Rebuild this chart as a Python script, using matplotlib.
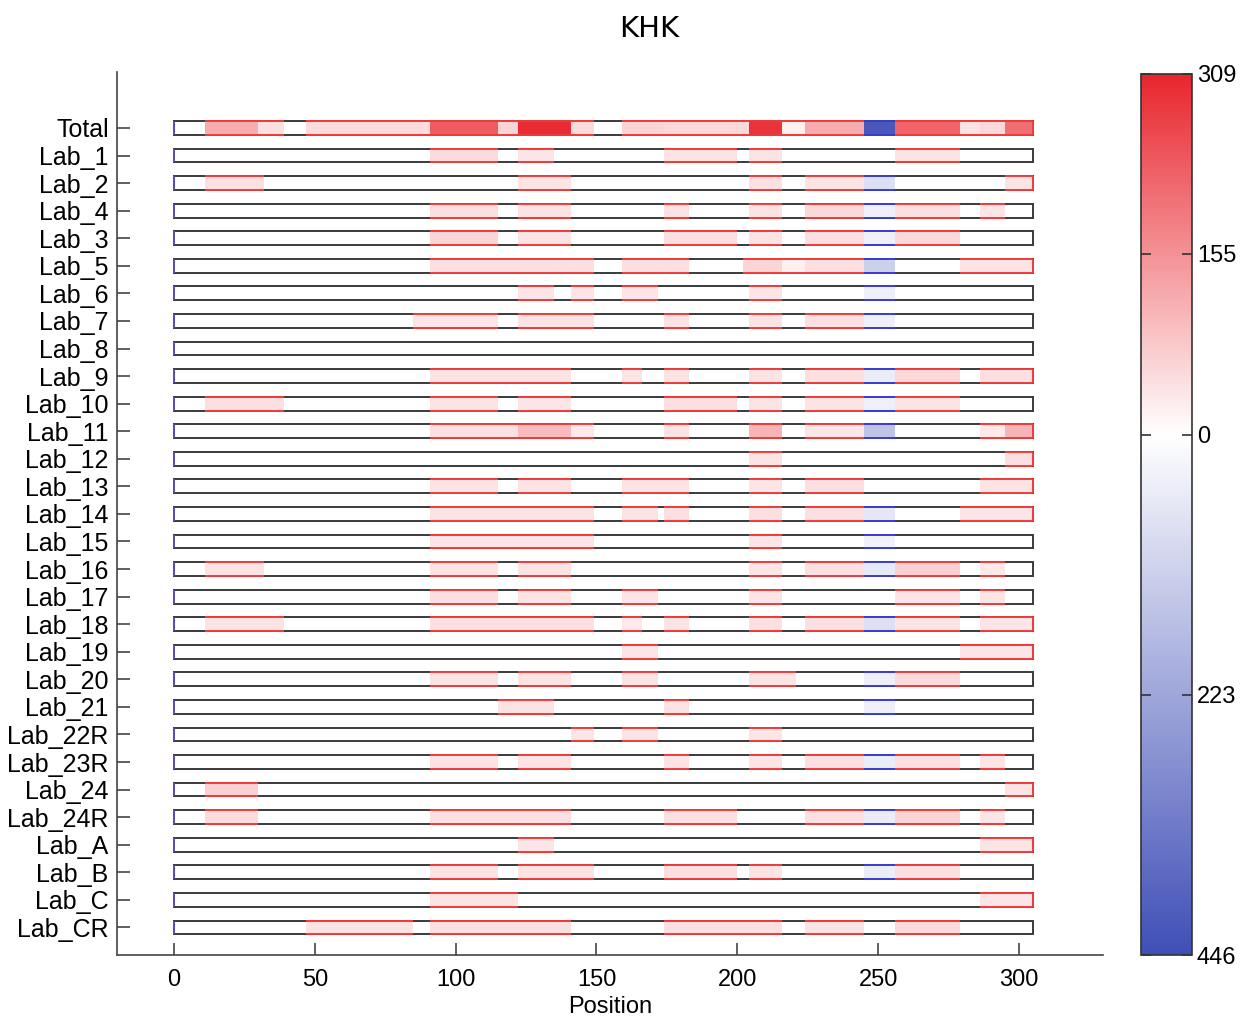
import matplotlib
matplotlib.use("Agg")
import matplotlib.pyplot as plt
from matplotlib.colors import LinearSegmentedColormap, Normalize
from matplotlib.cm import ScalarMappable

plt.rcParams['font.family'] = ['Liberation Sans', 'DejaVu Sans']

row_labels = ["Total", "Lab_1", "Lab_2", "Lab_4", "Lab_3", "Lab_5", "Lab_6", "Lab_7",
              "Lab_8", "Lab_9", "Lab_10", "Lab_11", "Lab_12", "Lab_13", "Lab_14",
              "Lab_15", "Lab_16", "Lab_17", "Lab_18", "Lab_19", "Lab_20", "Lab_21",
              "Lab_22R", "Lab_23R", "Lab_24", "Lab_24R", "Lab_A", "Lab_B", "Lab_C", "Lab_CR"]

protein_length = 305
vmin, vmax = -446, 309
cbar_ticks = [-446, -223, 0, 155, 309]
cbar_labels = ["446", "223", "0", "155", "309"]
x_ticks = [0, 50, 100, 150, 200, 250, 300]

# (start, end, value) for each row; negative = blue side of the scale
total = [(11, 30, 115), (30, 39, 45), (47, 91, 50), (91, 115, 230), (115, 122, 60),
         (122, 141, 300), (141, 149, 50), (159, 174, 60), (174, 204, 55), (204, 216, 290),
         (216, 224, 20), (224, 245, 115), (245, 256, -420), (256, 279, 220), (279, 286, 40),
         (286, 295, 55), (295, 305, 205)]
lab_1 = [(91, 115, 50), (122, 135, 35), (174, 200, 40), (204, 216, 40), (256, 279, 40)]
lab_2 = [(11, 32, 45), (122, 141, 40), (204, 216, 45), (224, 245, 40), (245, 256, -80),
         (295, 305, 40)]
lab_4 = [(91, 115, 45), (122, 141, 40), (174, 183, 40), (204, 216, 40), (224, 245, 55),
         (245, 256, -40), (256, 279, 45), (286, 295, 35)]
lab_3 = [(91, 115, 60), (122, 141, 40), (174, 200, 45), (204, 216, 40), (224, 245, 45),
         (245, 256, -40), (256, 279, 55)]
lab_5 = [(91, 149, 45), (159, 183, 45), (202, 216, 60), (216, 224, 20), (224, 245, 45),
         (245, 256, -120), (279, 305, 40)]
lab_6 = [(122, 135, 35), (141, 149, 35), (159, 172, 35), (204, 216, 35), (245, 256, -40)]
lab_7 = [(85, 115, 35), (122, 149, 40), (174, 183, 40), (204, 216, 40), (224, 245, 45),
         (245, 256, -40)]
lab_8 = []
lab_9 = [(91, 141, 40), (159, 166, 35), (174, 183, 40), (204, 216, 40), (224, 245, 45),
         (245, 256, -50), (256, 279, 55), (286, 305, 45)]
lab_10 = [(11, 39, 45), (91, 115, 40), (122, 141, 35), (174, 200, 45), (204, 216, 40),
          (224, 245, 40), (245, 256, -40), (256, 279, 40)]
lab_11 = [(91, 122, 45), (122, 141, 95), (141, 149, 30), (174, 183, 40), (204, 216, 105),
          (224, 245, 35), (245, 256, -150), (286, 295, 30), (295, 305, 105)]
lab_12 = [(204, 216, 40), (295, 305, 45)]
lab_13 = [(91, 115, 40), (122, 141, 40), (159, 183, 40), (204, 216, 35), (224, 245, 45),
          (286, 305, 40)]
lab_14 = [(91, 149, 40), (159, 172, 40), (174, 183, 45), (204, 216, 45), (224, 245, 45),
          (245, 256, -60), (279, 305, 35)]
lab_15 = [(91, 149, 35), (204, 216, 35), (245, 256, -35)]
lab_16 = [(11, 32, 40), (91, 115, 40), (122, 141, 40), (204, 216, 35), (224, 245, 45),
          (245, 256, -55), (256, 279, 65), (286, 295, 30)]
lab_17 = [(91, 115, 45), (122, 141, 40), (159, 172, 35), (204, 216, 35), (256, 279, 35),
          (286, 295, 35)]
lab_18 = [(11, 39, 40), (91, 149, 45), (159, 166, 30), (174, 183, 40), (204, 216, 45),
          (224, 245, 45), (245, 256, -80), (256, 279, 40), (286, 305, 35)]
lab_19 = [(159, 172, 35), (279, 305, 35)]
lab_20 = [(91, 115, 40), (122, 141, 40), (159, 172, 40), (204, 221, 40), (245, 256, -40),
          (256, 279, 50)]
lab_21 = [(115, 135, 40), (174, 183, 40), (245, 256, -40)]
lab_22r = [(141, 149, 35), (159, 172, 40), (204, 216, 35)]
lab_23r = [(91, 115, 40), (122, 141, 40), (174, 183, 40), (204, 216, 35), (224, 245, 45),
           (245, 256, -50), (256, 279, 45), (286, 295, 35)]
lab_24 = [(11, 30, 65), (295, 305, 40)]
lab_24r = [(11, 30, 50), (91, 141, 45), (174, 200, 45), (224, 245, 45), (245, 256, -50),
           (256, 279, 60), (286, 295, 35)]
lab_a = [(122, 135, 35), (286, 305, 40)]
lab_b = [(91, 115, 40), (122, 149, 40), (174, 200, 45), (204, 216, 40), (245, 256, -45),
         (256, 279, 45)]
lab_c = [(91, 122, 40), (286, 305, 35)]
lab_cr = [(47, 85, 40), (91, 141, 45), (174, 204, 45), (204, 216, 45), (224, 245, 40),
          (256, 279, 50)]

rows = [total, lab_1, lab_2, lab_4, lab_3, lab_5, lab_6, lab_7, lab_8, lab_9, lab_10,
        lab_11, lab_12, lab_13, lab_14, lab_15, lab_16, lab_17, lab_18, lab_19, lab_20,
        lab_21, lab_22r, lab_23r, lab_24, lab_24r, lab_a, lab_b, lab_c, lab_cr]

# white sits at zero, linear scale from -446 to 309
zero_pos = -vmin / (vmax - vmin)
cmap = LinearSegmentedColormap.from_list(
    "bwr_khk", [(0.0, "#3f4fb6"), (zero_pos, "#ffffff"), (1.0, "#e8262e")])
norm = Normalize(vmin=vmin, vmax=vmax)

fig = plt.figure(figsize=(12.49, 10.23), dpi=100)
ax = fig.add_axes([117 / 1249, 68 / 1023, 986 / 1249, 883 / 1023])

bar_h = 0.5
for i, segs in enumerate(rows):
    ax.barh(i, protein_length, left=0, height=bar_h, color="white",
            edgecolor="#3a3a3a", linewidth=1.4, zorder=1)
    for s, e, v in segs:
        ax.barh(i, e - s, left=s, height=bar_h, color=cmap(norm(v)),
                edgecolor="none", zorder=2)
        ec = "#ef3b3b" if v > 0 else "#3b3bd0"
        ax.hlines([i - bar_h / 2, i + bar_h / 2], s, e, colors=ec, linewidth=1.4, zorder=3)
        if e >= protein_length:
            ax.vlines(protein_length, i - bar_h / 2, i + bar_h / 2, colors=ec,
                      linewidth=1.4, zorder=3)
    ax.vlines(0, i - bar_h / 2, i + bar_h / 2, colors="#5a4fb8", linewidth=1.4, zorder=3)

ax.set_xlim(-20.2, 329.8)
ax.set_ylim(len(rows) - 0.0, -2.03)
ax.set_yticks(range(len(rows)))
ax.set_yticklabels(row_labels, fontsize=18)
ax.set_xticks(x_ticks)
ax.set_xticklabels([str(t) for t in x_ticks], fontsize=17)
ax.tick_params(axis="both", direction="in", length=9, width=1.2, color="#444444")
ax.tick_params(axis="y", pad=6)
ax.tick_params(axis="x", pad=10)
ax.set_xlabel("Position", fontsize=17, labelpad=4)
for side in ["top", "right"]:
    ax.spines[side].set_visible(False)
for side in ["left", "bottom"]:
    ax.spines[side].set_linewidth(1.2)
    ax.spines[side].set_color("#444444")

fig.suptitle("KHK", fontsize=21, y=0.985, x=0.52, family="DejaVu Sans")

cax = fig.add_axes([1141 / 1249, 68 / 1023, 51 / 1249, 881 / 1023])
cb = fig.colorbar(ScalarMappable(norm=norm, cmap=cmap), cax=cax)
cb.set_ticks(cbar_ticks)
cb.set_ticklabels(cbar_labels)
cb.outline.set_linewidth(1.2)
cb.outline.set_edgecolor("#333333")
cax.tick_params(axis="y", direction="in", length=7, width=1.2, left=True, right=True,
                labelsize=17, color="#333333")

fig.savefig("out.png", dpi=100)
